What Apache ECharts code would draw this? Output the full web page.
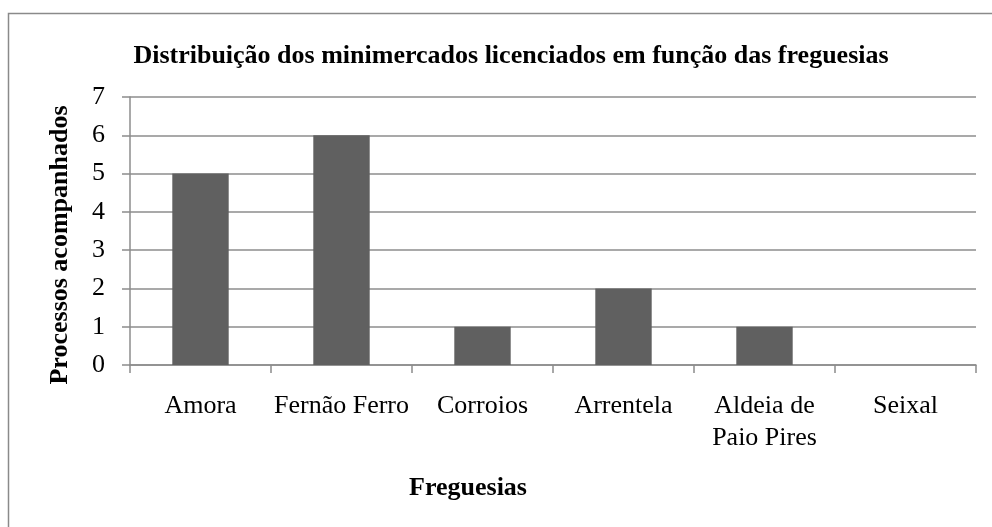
<!DOCTYPE html>
<html lang="pt">
<head>
    <meta charset="UTF-8">
    <title>Distribuição dos minimercados licenciados</title>
    <script src="https://cdn.jsdelivr.net/npm/echarts@6/dist/echarts.min.js"></script>
    <style>
        html, body { margin: 0; padding: 0; background: #fff; }
        #main { width: 992px; height: 527px; }
    </style>
</head>
<body>
<div id="main"></div>
<script>
    // dados do gráfico
    var freguesias = ['Amora', 'Fernão Ferro', 'Corroios', 'Arrentela', 'Aldeia de\nPaio Pires', 'Seixal'];
    var processos = [5, 6, 1, 2, 1, 0];
    var yTicks = [0, 1, 2, 3, 4, 5, 6, 7];

    var fonte = '"Liberation Serif", "Times New Roman", serif';
    var myChart = echarts.init(document.getElementById('main'));

    var option = {
        backgroundColor: '#fff',
        animation: false,
        title: {
            text: 'Distribuição dos minimercados licenciados em função das freguesias',
            left: 506,
            textAlign: 'center',
            top: 38,
            textStyle: {fontFamily: fonte, fontSize: 26, fontWeight: 'bold', color: '#000'}
        },
        graphic: [{
            type: 'rect',
            shape: {x: 8.5, y: 13.5, width: 1000, height: 600},
            style: {fill: 'none', stroke: '#8a8a8a', lineWidth: 1.5},
            silent: true
        }],
        grid: {left: 130, right: 16, top: 97, bottom: 162},
        xAxis: {
            type: 'category',
            data: freguesias,
            name: 'Freguesias',
            nameLocation: 'middle',
            nameGap: 110,
            nameTextStyle: {fontFamily: fonte, fontSize: 26, fontWeight: 'bold', color: '#000', padding: [0, 170, 0, 0]},
            axisLine: {lineStyle: {color: '#8c8c8c', width: 1.5}},
            axisTick: {show: true, length: 8, lineStyle: {color: '#8c8c8c', width: 1.5}},
            axisLabel: {fontFamily: fonte, fontSize: 26, color: '#000', margin: 25, lineHeight: 32, interval: 0}
        },
        yAxis: {
            type: 'value',
            min: yTicks[0],
            max: yTicks[yTicks.length - 1],
            interval: 1,
            name: 'Processos acompanhados',
            nameLocation: 'middle',
            nameGap: 57,
            nameTextStyle: {fontFamily: fonte, fontSize: 26, fontWeight: 'bold', color: '#000', padding: [0, 28, 0, 0]},
            axisLine: {show: true, lineStyle: {color: '#8c8c8c', width: 1.5}},
            axisTick: {show: true, length: 8, lineStyle: {color: '#8c8c8c', width: 1.5}},
            axisLabel: {fontFamily: fonte, fontSize: 26, color: '#000', margin: 25},
            splitLine: {lineStyle: {color: '#8c8c8c', width: 1.5}}
        },
        series: [{
            name: 'Processos acompanhados',
            type: 'bar',
            data: processos,
            barWidth: '40%',
            itemStyle: {color: '#606060'}
        }]
    };

    myChart.setOption(option);
</script>
</body>
</html>
